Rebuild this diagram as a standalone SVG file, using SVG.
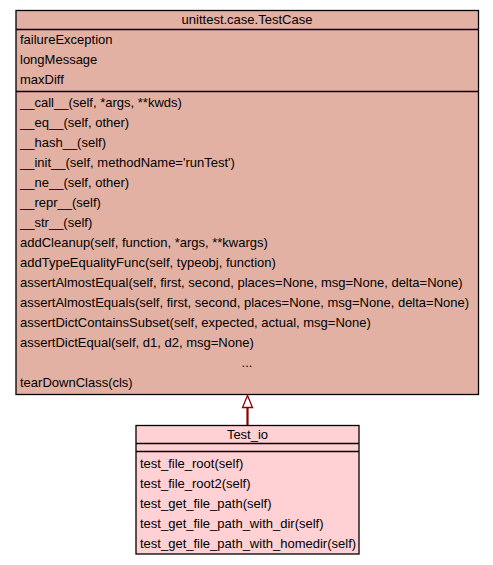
<svg xmlns="http://www.w3.org/2000/svg" width="493" height="565" viewBox="0 0 493 565">
<style>
text{font-family:"Liberation Sans",Arial,sans-serif;font-size:13px;fill:#000}
.c{text-anchor:middle}
.box{stroke:#000;stroke-width:1.3}
.sep{stroke:#000;stroke-width:1.6}
</style>
<rect width="493" height="565" fill="#fff"/>
<g id="TestCase">
<rect class="box" x="16" y="10.5" width="462.5" height="384" fill="#e3b1a4"/>
<line class="sep" x1="16" y1="29.5" x2="478.5" y2="29.5"/>
<line class="sep" x1="16" y1="91.5" x2="478.5" y2="91.5"/>
<text class="c" x="247" y="24">unittest.case.TestCase</text>
<text x="20" y="44">failureException</text>
<text x="20" y="64">longMessage</text>
<text x="20" y="84">maxDiff</text>
<text x="20" y="107">__call__(self, *args, **kwds)</text>
<text x="20" y="127">__eq__(self, other)</text>
<text x="20" y="147">__hash__(self)</text>
<text x="20" y="167">__init__(self, methodName='runTest')</text>
<text x="20" y="187">__ne__(self, other)</text>
<text x="20" y="207">__repr__(self)</text>
<text x="20" y="227">__str__(self)</text>
<text x="20" y="247">addCleanup(self, function, *args, **kwargs)</text>
<text x="20" y="267">addTypeEqualityFunc(self, typeobj, function)</text>
<text x="20" y="287">assertAlmostEqual(self, first, second, places=None, msg=None, delta=None)</text>
<text x="20" y="307">assertAlmostEquals(self, first, second, places=None, msg=None, delta=None)</text>
<text x="20" y="327">assertDictContainsSubset(self, expected, actual, msg=None)</text>
<text x="20" y="347">assertDictEqual(self, d1, d2, msg=None)</text>
<text class="c" x="247" y="367">...</text>
<text x="20" y="387">tearDownClass(cls)</text>
</g>
<g id="Test_io">
<rect class="box" x="136" y="425.5" width="223" height="128.5" fill="#ffd0d4"/>
<line class="sep" x1="136" y1="443.5" x2="359" y2="443.5"/>
<line class="sep" x1="136" y1="451.5" x2="359" y2="451.5"/>
<text class="c" x="247.5" y="439">Test_io</text>
<text x="140" y="468">test_file_root(self)</text>
<text x="140" y="488">test_file_root2(self)</text>
<text x="140" y="508">test_get_file_path(self)</text>
<text x="140" y="528">test_get_file_path_with_dir(self)</text>
<text x="140" y="548">test_get_file_path_with_homedir(self)</text>
</g>
<g id="connectors">
<line x1="247.5" y1="425" x2="247.5" y2="407" stroke="#8b0000" stroke-width="2.2"/>
<polygon points="247.5,395.5 242.5,407.5 252.5,407.5" fill="#fff" stroke="#8b0000" stroke-width="1.3"/>
</g>
</svg>
